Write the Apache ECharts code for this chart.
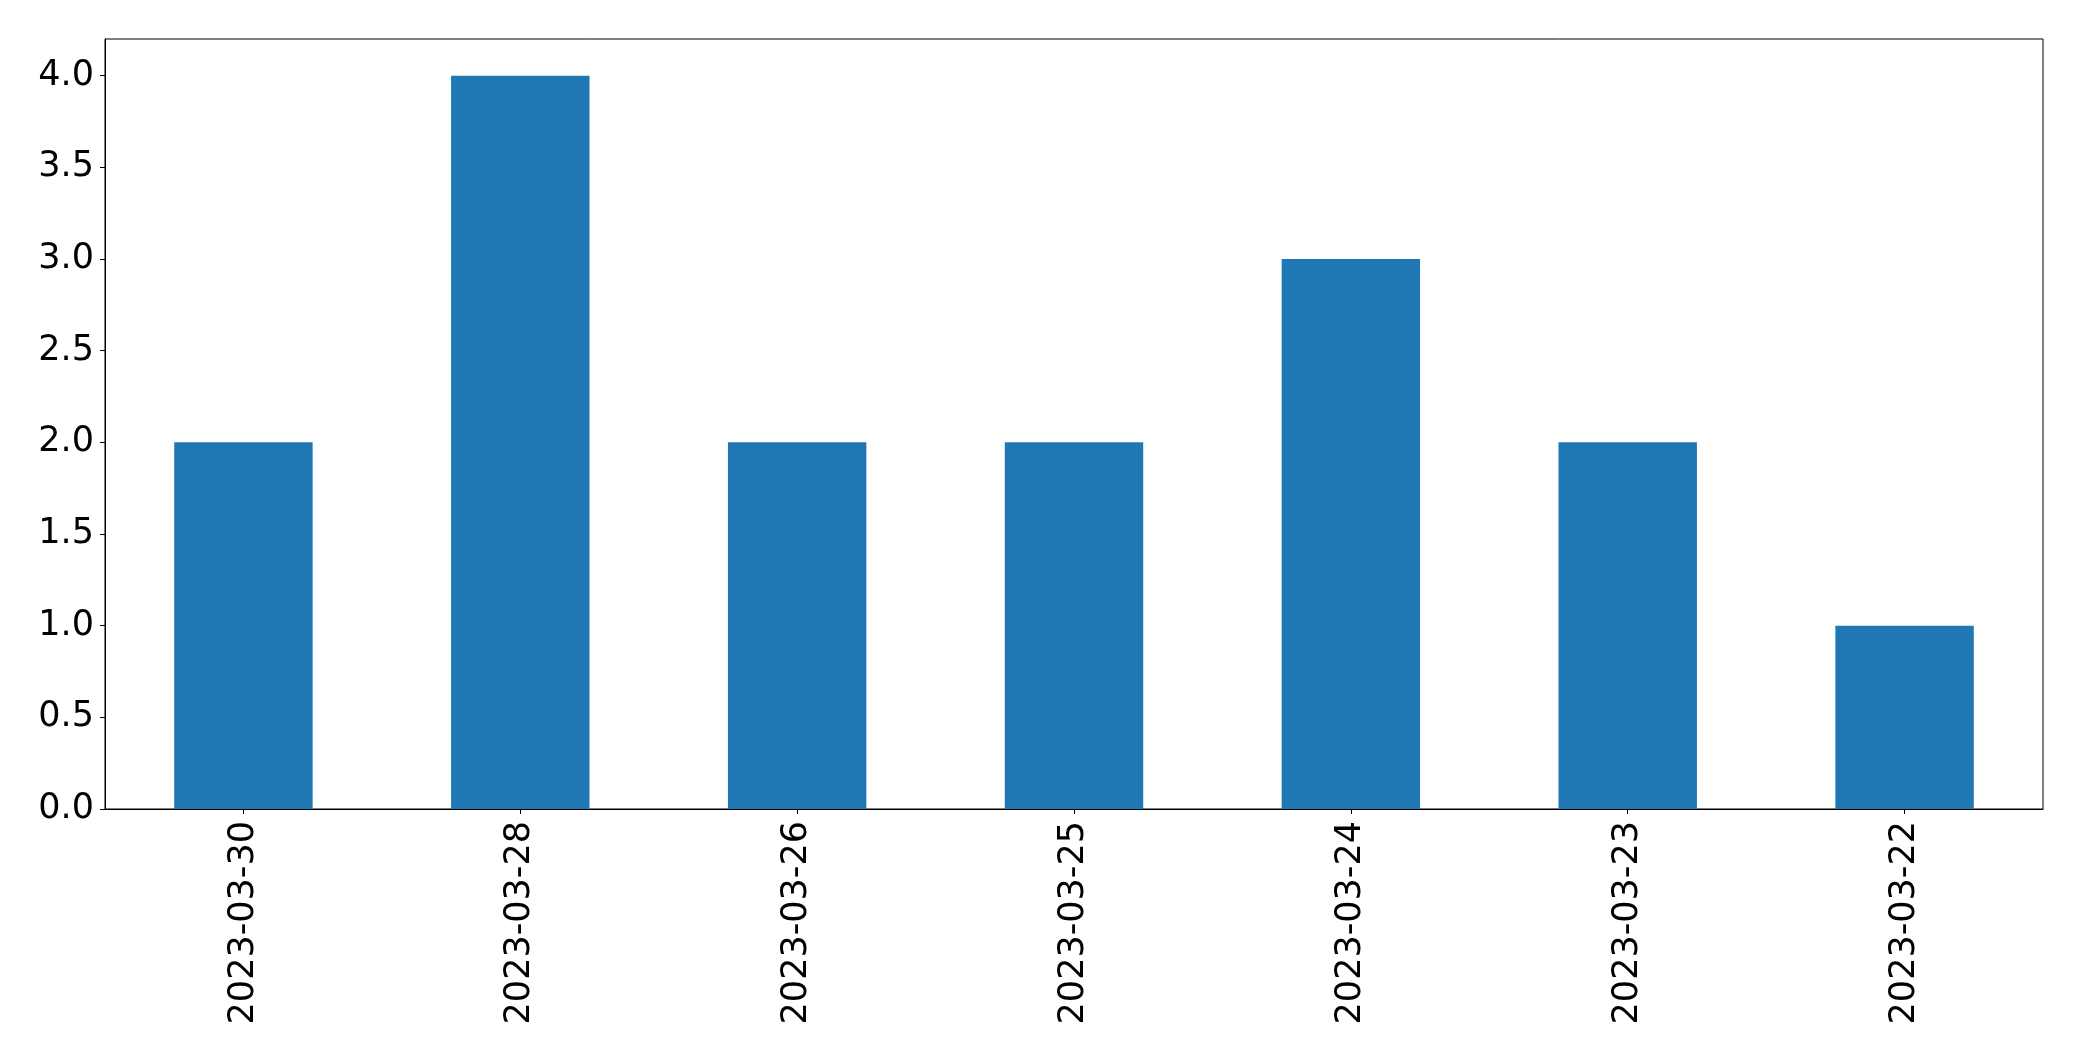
<!DOCTYPE html>
<html>
<head>
<meta charset="utf-8">
<script src="https://cdn.jsdelivr.net/npm/echarts@6/dist/echarts.min.js"></script>
<style>html,body{margin:0;padding:0;background:#fff}#c{width:2082px;height:1061px}</style>
</head>
<body>
<div id="c"></div>
<script>
const categories = ["2023-03-30","2023-03-28","2023-03-26","2023-03-25","2023-03-24","2023-03-23","2023-03-22"];
const values = [2, 4, 2, 2, 3, 2, 1];
const yTicks = [0, 0.5, 1.0, 1.5, 2.0, 2.5, 3.0, 3.5, 4.0];

const chart = echarts.init(document.getElementById('c'), null, {renderer: 'canvas'});
const font = 'DejaVu Sans';
chart.setOption({
  animation: false,
  backgroundColor: '#ffffff',
  grid: {left: 105, right: 39, top: 39, bottom: 252, show: true, borderColor: '#000', borderWidth: 1, backgroundColor: 'transparent'},
  xAxis: {
    type: 'category',
    data: categories,
    boundaryGap: true,
    axisLine: {show: true, lineStyle: {color: '#000', width: 1}},
    axisTick: {show: true, alignWithLabel: true, length: 5, lineStyle: {color: '#000', width: 1}},
    axisLabel: {rotate: 90, fontFamily: font, fontSize: 35, color: '#000', margin: 12, interval: 0}
  },
  yAxis: {
    type: 'value',
    min: 0, max: 4.2, interval: 0.5,
    splitLine: {show: false},
    axisLine: {show: true, lineStyle: {color: '#000', width: 1}},
    axisTick: {show: true, length: 5, lineStyle: {color: '#000', width: 1}},
    axisLabel: {fontFamily: font, fontSize: 35, color: '#000', margin: 11, showMaxLabel: false, padding: [10, 0, 0, 0],
      formatter: v => yTicks.some(t => Math.abs(t - v) < 1e-9) ? v.toFixed(1) : ''}
  },
  series: [{
    type: 'bar',
    data: values,
    barWidth: '50%',
    itemStyle: {color: '#1f77b4'}
  }]
});
</script>
</body>
</html>
